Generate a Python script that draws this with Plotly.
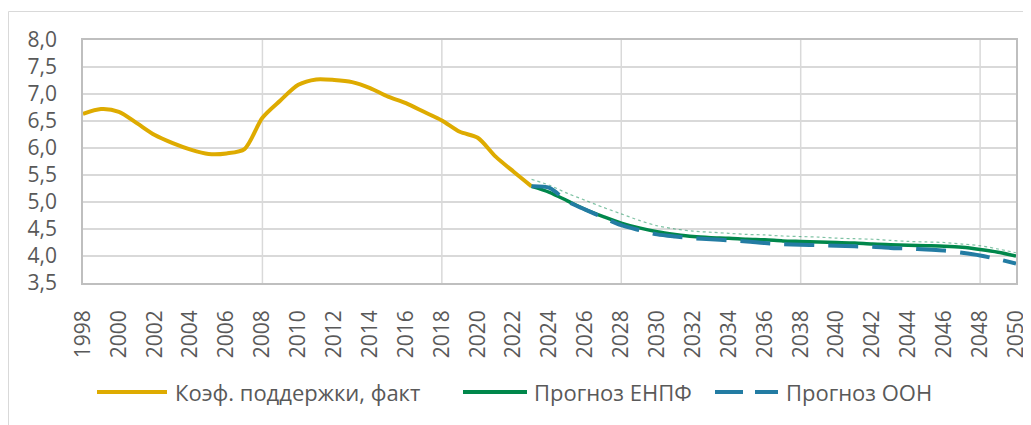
import plotly.graph_objects as go

# ---------------- data ----------------
fact_years = list(range(1998, 2024))
fact_values = [6.63, 6.72, 6.67, 6.46, 6.24, 6.09, 5.97, 5.89, 5.90, 5.98,
               6.56, 6.88, 7.17, 7.27, 7.26, 7.22, 7.11, 6.95, 6.83, 6.67,
               6.51, 6.30, 6.19, 5.84, 5.56, 5.29]

fc_years = list(range(2023, 2051))
enpf_values = [5.29, 5.18, 5.02, 4.86, 4.73, 4.61, 4.52, 4.45, 4.40, 4.36,
               4.34, 4.33, 4.31, 4.30, 4.28, 4.27, 4.26, 4.25, 4.24, 4.22,
               4.21, 4.20, 4.19, 4.18, 4.16, 4.12, 4.07, 4.00]
un_values = [5.29, 5.26, 5.01, 4.86, 4.71, 4.57, 4.48, 4.40, 4.36, 4.33,
             4.31, 4.29, 4.27, 4.24, 4.22, 4.21, 4.20, 4.19, 4.18, 4.17,
             4.15, 4.14, 4.12, 4.10, 4.06, 4.01, 3.94, 3.86]
trend_values = [5.42, 5.31, 5.16, 5.03, 4.90, 4.78, 4.66, 4.56, 4.50, 4.46,
                4.44, 4.42, 4.40, 4.39, 4.37, 4.36, 4.35, 4.33, 4.32, 4.31,
                4.29, 4.27, 4.26, 4.25, 4.22, 4.19, 4.13, 4.06]

names = ["Коэф. поддержки, факт", "Прогноз ЕНПФ", "Прогноз ООН"]
colors = ["#DEAB00", "#00874B", "#237CA3"]

x_ticks = list(range(1998, 2051, 2))
grid_years = [2008, 2018, 2028, 2038, 2048]

# ---------------- layout geometry (pixels, window coordinates) ----------------
OFF = 8                      # default page body margin
WIN_W, WIN_H = 1031, 425
W, H = WIN_W - OFF, WIN_H - OFF
PLOT_L, PLOT_R, PLOT_T, PLOT_B = 83, 1016, 40, 283
L, R, T, B = PLOT_L - OFF, WIN_W - PLOT_R, PLOT_T - OFF, WIN_H - PLOT_B
PW, PH = PLOT_R - PLOT_L, PLOT_B - PLOT_T

def px_x(px):
    return (px - PLOT_L) / PW

def px_y(py):
    return (PLOT_B - py) / PH

FONT = "Open Sans"
TXT = "#595959"
FS_TICK = 21
FS_LEG = 22

fig = go.Figure()

fig.add_trace(go.Scatter(x=fc_years, y=trend_values, mode="lines",
                         line=dict(color="rgba(0,135,75,0.5)", width=1.2, dash="dot",
                                   shape="spline", smoothing=0.8),
                         showlegend=False, hoverinfo="skip"))
fig.add_trace(go.Scatter(x=fact_years, y=fact_values, mode="lines", name=names[0],
                         line=dict(color=colors[0], width=4, shape="spline", smoothing=0.8),
                         showlegend=False))
fig.add_trace(go.Scatter(x=fc_years, y=enpf_values, mode="lines", name=names[1],
                         line=dict(color=colors[1], width=3.5, shape="spline", smoothing=0.8),
                         showlegend=False))
fig.add_trace(go.Scatter(x=fc_years, y=un_values, mode="lines", name=names[2],
                         line=dict(color=colors[2], width=4, dash="30px,14px",
                                   shape="spline", smoothing=0.8),
                         showlegend=False))

shapes = []
# vertical gridlines
for gy in grid_years:
    shapes.append(dict(type="line", xref="x", yref="paper", x0=gy, x1=gy, y0=0, y1=1,
                       line=dict(color="#D9D9D9", width=1.5), layer="below"))
# outer chart frame
shapes.append(dict(type="rect", xref="paper", yref="paper",
                   x0=px_x(8.5), x1=px_x(1040), y0=px_y(435), y1=px_y(11.5),
                   line=dict(color="#D9D9D9", width=1), layer="below"))

# manual legend
leg_y = px_y(392)
legend_items = [
    (97, 167, 173, None),
    (463, 527, 532, None),
    (715, 778, 784, "28px,12px"),
]
annotations = []
for i, (x0, x1, tx, dash) in enumerate(legend_items):
    ln = dict(color=colors[i], width=4)
    if dash:
        ln["dash"] = dash
    shapes.append(dict(type="line", xref="paper", yref="paper",
                       x0=px_x(x0), x1=px_x(x1), y0=leg_y, y1=leg_y, line=ln))
    annotations.append(dict(xref="paper", yref="paper", x=px_x(tx), y=leg_y,
                            text=names[i], showarrow=False, xanchor="left", yanchor="middle",
                            font=dict(family=FONT, size=FS_LEG, color=TXT)))

fig.update_layout(
    width=W, height=H,
    margin=dict(l=L, r=R, t=T, b=B, autoexpand=False),
    paper_bgcolor="white", plot_bgcolor="white",
    separators=", ",
    font=dict(family=FONT, size=FS_TICK, color=TXT),
    shapes=shapes, annotations=annotations,
    showlegend=False,
)
fig.update_xaxes(range=[1998, 2050], tickmode="array", tickvals=x_ticks,
                 ticktext=[str(v) for v in x_ticks], tickangle=-90,
                 showgrid=False, zeroline=False, ticks="", automargin=False,
                 showline=True, linecolor="#BFBFBF", linewidth=1.5, mirror=True,
                 ticklabelstandoff=17,
                 tickfont=dict(family=FONT, size=FS_TICK, color=TXT))
fig.update_yaxes(range=[3.5, 8.0], dtick=0.5, tick0=3.5, tickformat=".1f",
                 showgrid=True, gridcolor="#D9D9D9", gridwidth=1.5, zeroline=False,
                 ticks="", automargin=False,
                 showline=True, linecolor="#BFBFBF", linewidth=1.5, mirror=True,
                 ticklabelstandoff=20,
                 tickfont=dict(family=FONT, size=FS_TICK, color=TXT))

fig.write_html("out.html")
